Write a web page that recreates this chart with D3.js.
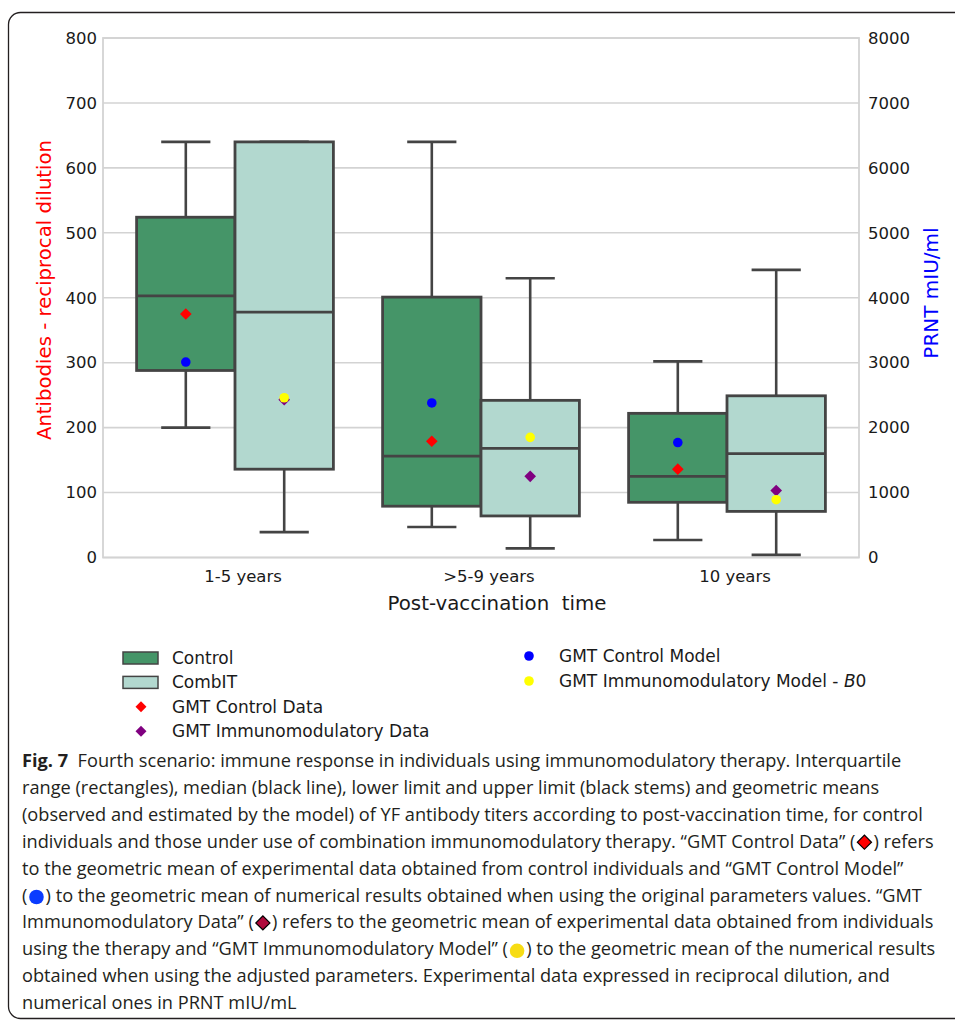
<!DOCTYPE html>
<html>
<head>
<meta charset="utf-8">
<script src="https://cdn.jsdelivr.net/npm/d3@7"></script>
<style>
  html, body { margin: 0; padding: 0; background: #fff; }
  svg { display: block; }
  .tick text { font-family: "DejaVu Sans", Verdana, sans-serif; }
</style>
</head>
<body>
<script>
// Post-vaccination time groups and the two cohorts
const categories = ["1-5 years", ">5-9 years", "10 years"];
const groups = ["Control", "CombIT"];

// Box statistics, reciprocal dilution (low stem, Q1, median, Q3, high stem)
const controlLow = [200, 47, 27];
const controlQ1 = [288, 79, 85];
const controlMedian = [403, 156, 125];
const controlQ3 = [524, 401, 222];
const controlHigh = [640, 640, 302];

const combitLow = [39, 14, 4];
const combitQ1 = [136, 64, 71];
const combitMedian = [378, 168, 160];
const combitQ3 = [640, 242, 249];
const combitHigh = [640, 430, 443];

// Observed geometric means, reciprocal dilution
const gmtControlData = [375, 179, 136];
const gmtImmunoData = [243, 125, 103];

// Model geometric means, PRNT mIU/ml
const gmtControlModel = [3010, 2380, 1770];
const gmtImmunoModel = [2460, 1850, 890];

const leftTicks = [0, 100, 200, 300, 400, 500, 600, 700, 800];
const rightTicks = [0, 1000, 2000, 3000, 4000, 5000, 6000, 7000, 8000];

const W = 955, H = 1021;
const plot = { left: 103, right: 859, top: 38, bottom: 557.5 };

const colors = {
  Control: "#459568",
  CombIT: "#b2d8cf",
  edge: "#444444",
  grid: "#d3d3d3",
  gmtControlData: "#ff0000",
  gmtImmunoData: "#800080",
  gmtControlModel: "#0000ff",
  gmtImmunoModel: "#ffff00"
};

const svg = d3.select("body").append("svg")
  .attr("width", W).attr("height", H)
  .attr("viewBox", `0 0 ${W} ${H}`);

// Figure frame
svg.append("rect")
  .attr("x", 8.5).attr("y", 12.5)
  .attr("width", 1000).attr("height", 1006)
  .attr("rx", 12).attr("ry", 12)
  .attr("fill", "none").attr("stroke", "#231f20").attr("stroke-width", 1.3);

// Scales
const x = d3.scaleBand().domain(categories).range([112, 850]);
const xHue = d3.scaleBand().domain(groups)
  .range([x.bandwidth() * 0.1, x.bandwidth() * 0.9]);
const y = d3.scaleLinear().domain([0, 800]).range([plot.bottom, plot.top]);
const yRight = d3.scaleLinear().domain([0, 8000]).range([plot.bottom, plot.top]);

// Grid
svg.append("g").selectAll("line").data(leftTicks).join("line")
  .attr("x1", plot.left).attr("x2", plot.right)
  .attr("y1", d => y(d)).attr("y2", d => y(d))
  .attr("stroke", colors.grid).attr("stroke-width", 1.6);

// Plot frame
svg.append("rect")
  .attr("x", plot.left).attr("y", plot.top)
  .attr("width", plot.right - plot.left).attr("height", plot.bottom - plot.top)
  .attr("fill", "none").attr("stroke", colors.grid).attr("stroke-width", 1.8);

// Axes
const leftAxis = svg.append("g")
  .attr("transform", `translate(${plot.left},0)`)
  .call(d3.axisLeft(y).tickValues(leftTicks).tickFormat(d3.format("d")).tickSize(0).tickPadding(6));
const rightAxis = svg.append("g")
  .attr("transform", `translate(${plot.right},0)`)
  .call(d3.axisRight(yRight).tickValues(rightTicks).tickFormat(d3.format("d")).tickSize(0).tickPadding(9));
const bottomAxis = svg.append("g")
  .attr("transform", `translate(0,${plot.bottom})`)
  .call(d3.axisBottom(x).tickSize(0).tickPadding(13));
[leftAxis, rightAxis, bottomAxis].forEach(a => {
  a.select(".domain").remove();
  a.selectAll("text").attr("font-size", 16.5).attr("fill", "#1a1a1a");
});
bottomAxis.selectAll("text").attr("dx", 8);

// Axis titles
svg.append("text")
  .attr("transform", `translate(51,290) rotate(-90)`)
  .attr("text-anchor", "middle")
  .attr("font-family", "DejaVu Sans, Verdana, sans-serif")
  .attr("font-size", 19.7).attr("fill", "#ff0000")
  .text("Antibodies - reciprocal dilution");
svg.append("text")
  .attr("transform", `translate(938,293) rotate(-90)`)
  .attr("text-anchor", "middle")
  .attr("font-family", "DejaVu Sans, Verdana, sans-serif")
  .attr("font-size", 20).attr("fill", "#0000ff")
  .text("PRNT mIU/ml");
svg.append("text")
  .attr("x", 497).attr("y", 610)
  .attr("text-anchor", "middle")
  .attr("font-family", "DejaVu Sans, Verdana, sans-serif")
  .attr("font-size", 19.8).attr("fill", "#1a1a1a")
  .style("white-space", "pre")
  .text("Post-vaccination  time");

// Box records built from the named arrays
const boxes = [];
categories.forEach((c, i) => {
  boxes.push({ cat: c, group: "Control", low: controlLow[i], q1: controlQ1[i],
    med: controlMedian[i], q3: controlQ3[i], high: controlHigh[i] });
  boxes.push({ cat: c, group: "CombIT", low: combitLow[i], q1: combitQ1[i],
    med: combitMedian[i], q3: combitQ3[i], high: combitHigh[i] });
});

const bw = xHue.bandwidth();
const cx = d => x(d.cat) + xHue(d.group) + bw / 2;
const capHalf = bw / 4;

const boxG = svg.append("g").selectAll("g").data(boxes).join("g");
// stems
boxG.append("line")
  .attr("x1", cx).attr("x2", cx)
  .attr("y1", d => y(d.high)).attr("y2", d => y(d.q3))
  .attr("stroke", colors.edge).attr("stroke-width", 2.6);
boxG.append("line")
  .attr("x1", cx).attr("x2", cx)
  .attr("y1", d => y(d.q1)).attr("y2", d => y(d.low))
  .attr("stroke", colors.edge).attr("stroke-width", 2.6);
// caps
boxG.append("line")
  .attr("x1", d => cx(d) - capHalf).attr("x2", d => cx(d) + capHalf)
  .attr("y1", d => y(d.high)).attr("y2", d => y(d.high))
  .attr("stroke", colors.edge).attr("stroke-width", 2.6);
boxG.append("line")
  .attr("x1", d => cx(d) - capHalf).attr("x2", d => cx(d) + capHalf)
  .attr("y1", d => y(d.low)).attr("y2", d => y(d.low))
  .attr("stroke", colors.edge).attr("stroke-width", 2.6);
// interquartile rectangles
boxG.append("rect")
  .attr("x", d => x(d.cat) + xHue(d.group))
  .attr("width", bw)
  .attr("y", d => y(d.q3))
  .attr("height", d => y(d.q1) - y(d.q3))
  .attr("fill", d => colors[d.group])
  .attr("stroke", colors.edge).attr("stroke-width", 2.8);
// medians
boxG.append("line")
  .attr("x1", d => x(d.cat) + xHue(d.group)).attr("x2", d => x(d.cat) + xHue(d.group) + bw)
  .attr("y1", d => y(d.med)).attr("y2", d => y(d.med))
  .attr("stroke", colors.edge).attr("stroke-width", 2.8);

// Geometric means
const diamond = d3.symbol().type(d3.symbolSquare).size(68);
const ptX = (cat, group) => x(cat) + xHue(group) + bw / 2;

svg.append("g").selectAll("path").data(categories).join("path")
  .attr("d", diamond)
  .attr("transform", (c, i) => `translate(${ptX(c, "Control")},${y(gmtControlData[i])}) rotate(45)`)
  .attr("fill", colors.gmtControlData);
svg.append("g").selectAll("path").data(categories).join("path")
  .attr("d", diamond)
  .attr("transform", (c, i) => `translate(${ptX(c, "CombIT")},${y(gmtImmunoData[i])}) rotate(45)`)
  .attr("fill", colors.gmtImmunoData);
svg.append("g").selectAll("circle").data(categories).join("circle")
  .attr("cx", c => ptX(c, "Control"))
  .attr("cy", (c, i) => yRight(gmtControlModel[i]))
  .attr("r", 4.8).attr("fill", colors.gmtControlModel);
svg.append("g").selectAll("circle").data(categories).join("circle")
  .attr("cx", c => ptX(c, "CombIT"))
  .attr("cy", (c, i) => yRight(gmtImmunoModel[i]))
  .attr("r", 4.8).attr("fill", colors.gmtImmunoModel);

// Legend
const legendFont = { family: "DejaVu Sans, Verdana, sans-serif", size: 17 };
const legendLeft = [
  { label: "Control", kind: "box", color: colors.Control },
  { label: "CombIT", kind: "box", color: colors.CombIT },
  { label: "GMT Control Data", kind: "diamond", color: colors.gmtControlData },
  { label: "GMT Immunomodulatory Data", kind: "diamond", color: colors.gmtImmunoData }
];
const legendRight = [
  { label: "GMT Control Model", kind: "dot", color: colors.gmtControlModel },
  { label: "GMT Immunomodulatory Model - ", italic: "B", tail: "0", kind: "dot", color: colors.gmtImmunoModel }
];

function drawLegend(items, x0, y0, step, markX, textX) {
  const g = svg.append("g");
  items.forEach((it, i) => {
    const yy = y0 + i * step;
    if (it.kind === "box") {
      g.append("rect").attr("x", x0).attr("y", yy - 6).attr("width", 35).attr("height", 12)
        .attr("fill", it.color).attr("stroke", colors.edge).attr("stroke-width", 1.5);
    } else if (it.kind === "diamond") {
      g.append("path").attr("d", d3.symbol().type(d3.symbolSquare).size(60))
        .attr("transform", `translate(${markX},${yy}) rotate(45)`).attr("fill", it.color);
    } else {
      g.append("circle").attr("cx", markX).attr("cy", yy).attr("r", 4.8).attr("fill", it.color);
    }
    const t = g.append("text").attr("x", textX).attr("y", yy + 6)
      .attr("font-family", legendFont.family).attr("font-size", legendFont.size)
      .attr("fill", "#1a1a1a").style("white-space", "pre");
    t.append("tspan").text(it.label);
    if (it.italic) {
      t.append("tspan").attr("font-style", "italic").text(it.italic);
      t.append("tspan").text(it.tail);
    }
  });
}
drawLegend(legendLeft, 123, 658, 24.4, 141, 172);
drawLegend(legendRight, 0, 656, 25, 529, 559);

// Caption; {rd} {bc} {pd} {yc} mark the inline marker glyphs
const captionLines = [
  ["**Fig. 7**", "  Fourth scenario: immune response in individuals using immunomodulatory therapy. Interquartile"],
  ["range (rectangles), median (black line), lower limit and upper limit (black stems) and geometric means"],
  ["(observed and estimated by the model) of YF antibody titers according to post-vaccination time, for control"],
  ["individuals and those under use of combination immunomodulatory therapy. “GMT Control Data” (", "{rd}", ") refers"],
  ["to the geometric mean of experimental data obtained from control individuals and “GMT Control Model”"],
  ["(", "{bc}", ") to the geometric mean of numerical results obtained when using the original parameters values. “GMT"],
  ["Immunomodulatory Data” (", "{pd}", ") refers to the geometric mean of experimental data obtained from individuals"],
  ["using the therapy and “GMT Immunomodulatory Model” (", "{yc}", ") to the geometric mean of the numerical results"],
  ["obtained when using the adjusted parameters. Experimental data expressed in reciprocal dilution, and"],
  ["numerical ones in PRNT mIU/mL"]
];
const iconSpec = {
  "{rd}": { shape: "diamond", fill: "#ff0000" },
  "{bc}": { shape: "circle", fill: "#0a3cff" },
  "{pd}": { shape: "diamond", fill: "#b00a3c" },
  "{yc}": { shape: "circle", fill: "#f7dc13" }
};
const capG = svg.append("g")
  .attr("font-family", "'Open Sans', Lato, sans-serif")
  .attr("font-size", 18.2).attr("fill", "#231f20");
captionLines.forEach((segs, li) => {
  const yy = 767 + li * 26.9;
  const t = capG.append("text").attr("x", 22).attr("y", yy).style("white-space", "pre");
  let idx = 0;
  const icons = [];
  segs.forEach(s => {
    if (iconSpec[s]) {
      t.append("tspan").text("\u2002\u2002");
      icons.push({ spec: iconSpec[s], start: idx, end: idx + 1 });
      idx += 2;
    } else if (s.startsWith("**")) {
      const txt = s.slice(2, -2);
      t.append("tspan").attr("font-weight", 700).text(txt);
      idx += txt.length;
    } else {
      t.append("tspan").text(s);
      idx += s.length;
    }
  });
  const node = t.node();
  icons.forEach(ic => {
    const a = node.getStartPositionOfChar(ic.start).x;
    const b = node.getEndPositionOfChar(ic.end).x;
    const mx = (a + b) / 2, my = yy - 5.5;
    if (ic.spec.shape === "diamond") {
      capG.append("path").attr("d", d3.symbol().type(d3.symbolSquare).size(100))
        .attr("transform", `translate(${mx},${my}) rotate(45)`)
        .attr("fill", ic.spec.fill).attr("stroke", "#000").attr("stroke-width", 1.2);
    } else {
      capG.append("circle").attr("cx", mx).attr("cy", my + 1).attr("r", 7.3)
        .attr("fill", ic.spec.fill);
    }
  });
});
</script>
</body>
</html>
